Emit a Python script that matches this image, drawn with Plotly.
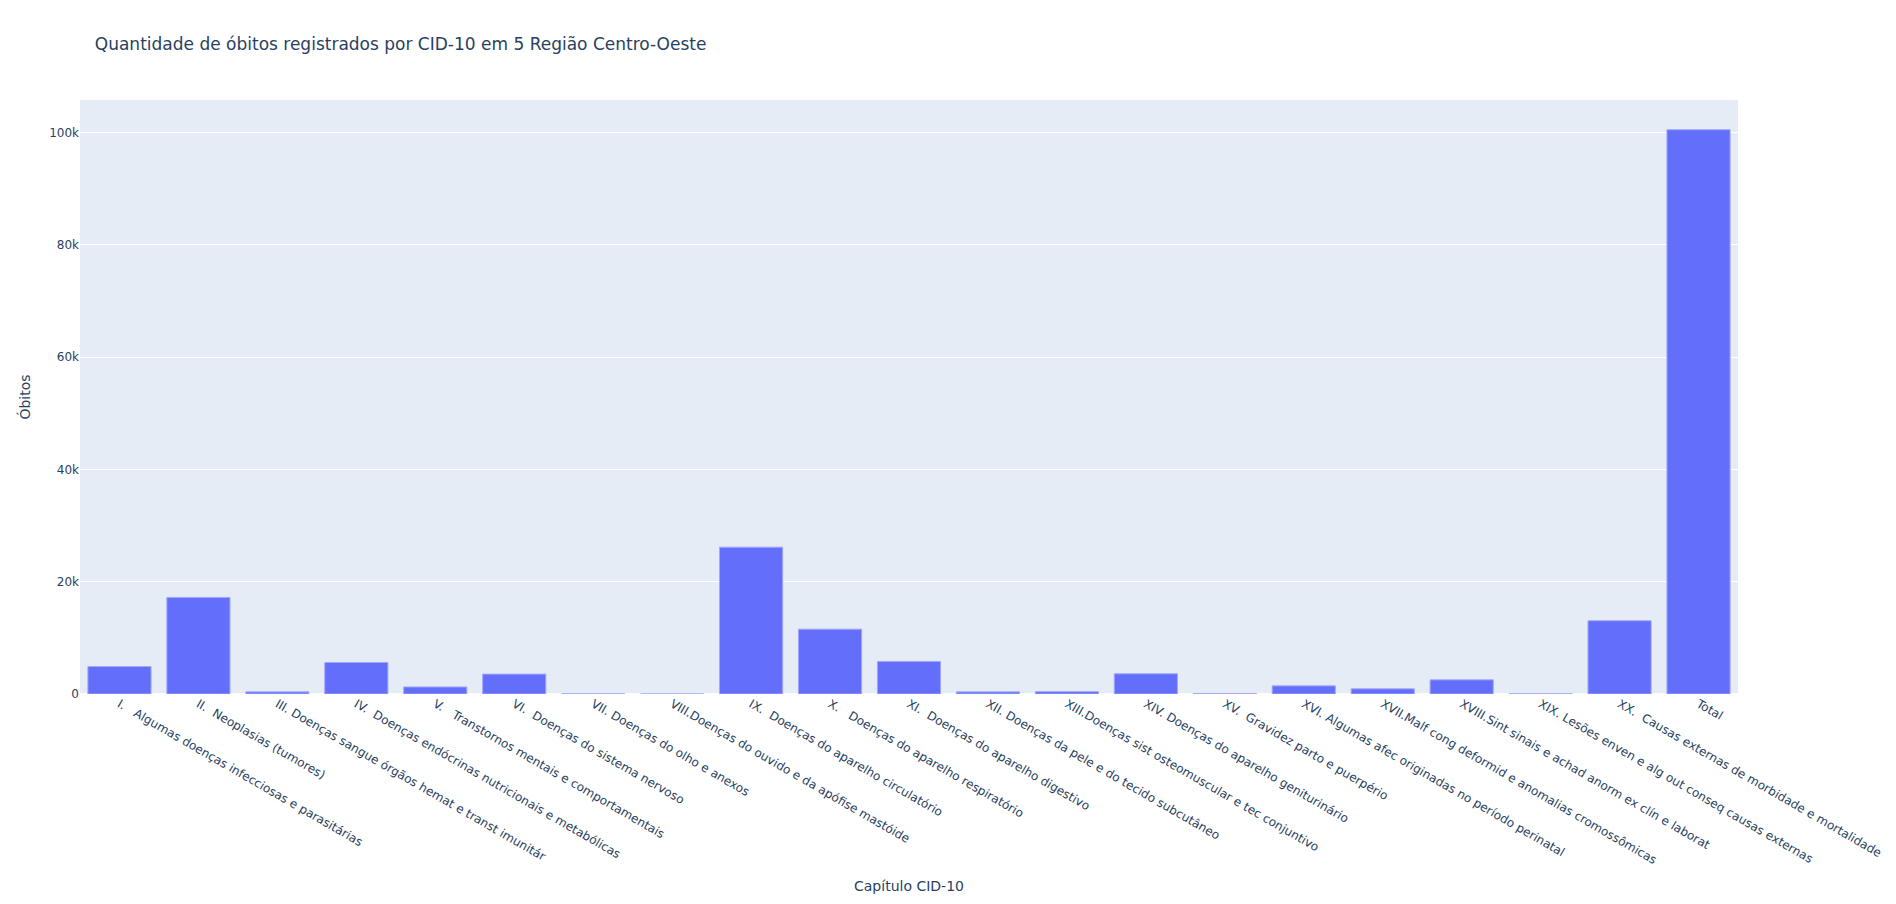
import plotly.graph_objects as go

categorias = [
    "I.   Algumas doenças infecciosas e parasitárias",
    "II.  Neoplasias (tumores)",
    "III. Doenças sangue órgãos hemat e transt imunitár",
    "IV.  Doenças endócrinas nutricionais e metabólicas",
    "V.   Transtornos mentais e comportamentais",
    "VI.  Doenças do sistema nervoso",
    "VII. Doenças do olho e anexos",
    "VIII.Doenças do ouvido e da apófise mastóide",
    "IX.  Doenças do aparelho circulatório",
    "X.   Doenças do aparelho respiratório",
    "XI.  Doenças do aparelho digestivo",
    "XII. Doenças da pele e do tecido subcutâneo",
    "XIII.Doenças sist osteomuscular e tec conjuntivo",
    "XIV. Doenças do aparelho geniturinário",
    "XV.  Gravidez parto e puerpério",
    "XVI. Algumas afec originadas no período perinatal",
    "XVII.Malf cong deformid e anomalias cromossômicas",
    "XVIII.Sint sinais e achad anorm ex clín e laborat",
    "XIX. Lesões enven e alg out conseq causas externas",
    "XX.  Causas externas de morbidade e mortalidade",
    "Total",
]

obitos = [4900, 17200, 380, 5620, 1260, 3540, 25, 10, 26150, 11550, 5800,
          380, 420, 3600, 90, 1450, 920, 2520, 40, 13050, 100500]

fig = go.Figure(
    go.Bar(x=categorias, y=obitos, marker_color="#636efa",
           marker_line_color="#a2a8fc", marker_line_width=1)
)
fig.update_layout(
    template="plotly",
    font=dict(family="DejaVu Sans, Verdana, sans-serif"),
    title=dict(text="Quantidade de óbitos registrados por CID-10 em 5 Região Centro-Oeste"),
    xaxis_title="Capítulo CID-10",
    yaxis_title="Óbitos",
    width=1896,
    height=904,
)
fig.update_xaxes(tickangle=30)
fig.write_html(
    "out.html",
    config={"displayModeBar": False},
    post_script="document.body.style.margin='0';document.body.style.overflow='hidden';",
)
